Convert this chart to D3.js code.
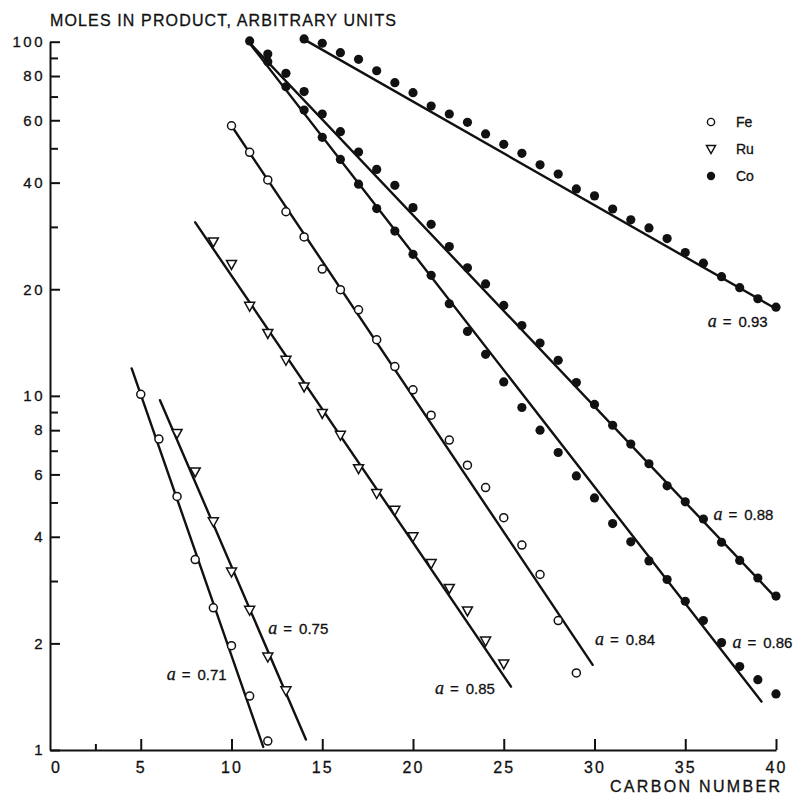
<!DOCTYPE html>
<html>
<head>
<meta charset="utf-8">
<script src="https://cdn.jsdelivr.net/npm/d3@7"></script>
<style>
  html, body { margin: 0; padding: 0; background: #fff; }
  svg text { font-family: "Liberation Sans", Arial, sans-serif; fill: #111; stroke: #111; stroke-width: 0.3px; }
</style>
</head>
<body>
<svg id="chart" width="796" height="794"></svg>
<script>
// [carbon number, moles]
const feA = [[5,10.1],[6,7.55],[7,5.2],[8,3.45],[9,2.52],[10,1.97],[11,1.42],[12,1.06]];
const feB = [[10,57.9],[11,48.7],[12,40.7],[13,33.1],[14,28.1],[15,22.8],[16,19.95],[17,17.5],[18,14.4],[19,12.1],
             [20,10.4],[21,8.82],[22,7.5],[23,6.37],[24,5.51],[25,4.53],[26,3.79],[27,3.13],[28,2.32],[29,1.65]];
const ruA = [[7,7.83],[8,6.1],[9,4.41],[10,3.18],[11,2.48],[12,1.83],[13,1.47]];
const ruB = [[9,27.2],[10,23.5],[11,17.9],[12,15.0],[13,12.6],[14,10.6],[15,8.92],[16,7.74],[17,6.23],[18,5.3],
             [19,4.75],[20,4.0],[21,3.36],[22,2.86],[23,2.47],[24,2.03],[25,1.75]];
const coA = [[14,101.8],[15,99],[16,93.1],[17,89.2],[18,82.8],[19,76.6],[20,71.8],[21,65.8],[22,62.5],[23,59.2],
             [24,54.9],[25,51.3],[26,48.4],[27,44.9],[28,42.3],[29,38.4],[30,36.7],[31,33.7],[32,31.4],[33,29.8],
             [34,27.8],[35,25.4],[36,23.7],[37,21.7],[38,20.2],[39,18.8],[40,17.8]];
const coB = [[11,100.5],[12,92.3],[13,81.4],[14,72.3],[15,62.5],[16,55.7],[17,48.8],[18,43.6],[19,39.3],[20,34.0],
             [21,30.5],[22,26.4],[23,23.0],[24,20.7],[25,18.0],[26,15.8],[27,14.1],[28,12.6],[29,10.9],[30,9.46],
             [31,8.26],[32,7.31],[33,6.43],[34,5.57],[35,5.02],[36,4.49],[37,3.86],[38,3.43],[39,3.06],[40,2.72]];
const coC = [[12,87.8],[13,74.6],[14,64.1],[15,53.7],[16,46.5],[17,39.6],[18,33.8],[19,29.2],[20,25.1],[21,21.9],
             [22,18.2],[23,15.2],[24,13.1],[25,10.95],[26,9.27],[27,8.0],[28,6.92],[29,5.94],[30,5.15],[31,4.36],
             [32,3.87],[33,3.42],[34,3.03],[35,2.63],[36,2.32],[37,2.01],[38,1.72],[39,1.58],[40,1.44]];

// fitted lines: carbon range and moles at both ends, plus where the alpha label sits
const fits = [
  { alpha: "0.71", c: [4.5, 11.75],  v: [11.95, 1.02], at: [6.43, 1.58] },
  { alpha: "0.75", c: [6.06, 14.1],  v: [9.72, 1.07],  at: [12.03, 2.13] },
  { alpha: "0.85", c: [8.0, 25.4],   v: [30.9, 1.51],  at: [21.21, 1.44] },
  { alpha: "0.84", c: [10, 29.9],    v: [57.9, 1.74],  at: [30.03, 1.98] },
  { alpha: "0.86", c: [10.9, 39.2],  v: [100.5, 1.37], at: [37.6, 1.94] },
  { alpha: "0.88", c: [10.9, 39.9],  v: [100.5, 2.72], at: [36.55, 4.46] },
  { alpha: "0.93", c: [13.85, 39.8], v: [102.5, 17.85], at: [36.24, 15.6] }
];

const yMajor = [1, 2, 4, 6, 8, 10, 20, 40, 60, 80, 100];
const yMinor = [3, 5, 7, 9, 30, 50, 70, 90];
const xMajor = [0, 5, 10, 15, 20, 25, 30, 35, 40];
const xMinor = [2.5];
const legendItems = ["Fe", "Ru", "Co"];

const svg = d3.select("#chart");
const x = d3.scaleLinear().domain([0, 40]).range([50, 776]);
const y = d3.scaleLog().domain([1, 100]).range([750, 41.7]);

// y axis, ticks point into the plot
const yAx = svg.append("g").attr("transform", `translate(${x(0)},0)`)
  .call(d3.axisLeft(y).tickValues(yMajor).tickFormat(d3.format("d"))
          .tickSize(-10).tickSizeOuter(0).tickPadding(5));
yAx.append("g").call(d3.axisLeft(y).tickValues(yMinor).tickFormat("").tickSize(-8).tickSizeOuter(0))
  .select(".domain").remove();
yAx.selectAll("path, line").attr("stroke", "#111").attr("stroke-width", 2);
yAx.selectAll("text").style("font-size", "15px").style("letter-spacing", "2.5px").attr("fill", "#111");

// x axis, ticks point up
const xAx = svg.append("g").attr("transform", `translate(0,${y(1)})`)
  .call(d3.axisBottom(x).tickValues(xMajor).tickFormat(d3.format("d"))
          .tickSize(-11).tickSizeOuter(0).tickPadding(12));
xAx.append("g").call(d3.axisBottom(x).tickValues(xMinor).tickFormat("").tickSize(-6).tickSizeOuter(0))
  .select(".domain").remove();
xAx.selectAll("path, line").attr("stroke", "#111").attr("stroke-width", 2);
xAx.selectAll(".tick").filter(d => d === 0).select("line").remove();
xAx.selectAll(".tick").filter(d => d === 0).select("text").attr("dx", 6);
xAx.selectAll("text").style("font-size", "16px").style("letter-spacing", "2px").attr("fill", "#111");

svg.append("text").attr("x", 50).attr("y", 26)
  .attr("textLength", 346).attr("lengthAdjust", "spacing")
  .style("font-size", "16px").text("MOLES IN PRODUCT, ARBITRARY UNITS");
svg.append("text").attr("x", 610).attr("y", 792)
  .attr("textLength", 170).attr("lengthAdjust", "spacing")
  .style("font-size", "16px").text("CARBON NUMBER");

// fitted lines
svg.append("g").selectAll("line").data(fits).join("line")
  .attr("x1", d => x(d.c[0])).attr("y1", d => y(d.v[0]))
  .attr("x2", d => x(d.c[1])).attr("y2", d => y(d.v[1]))
  .attr("stroke", "#111").attr("stroke-width", 2.4).attr("stroke-linecap", "round");

// alpha labels
const lab = svg.append("g").selectAll("text").data(fits).join("text")
  .attr("x", d => x(d.at[0])).attr("y", d => y(d.at[1]))
  .style("font-size", "15px");
lab.append("tspan").style("font-family", "'Liberation Serif', 'DejaVu Serif', serif")
  .style("font-style", "italic").style("font-size", "18px").text("a");
lab.append("tspan").attr("dx", 6).text("=");
lab.append("tspan").attr("dx", 7).text(d => d.alpha);

// markers
const tri = "M-5,-4L5,-4L0,5Z";
const drawOpen = (data) => svg.append("g").selectAll("circle").data(data).join("circle")
  .attr("cx", d => x(d[0])).attr("cy", d => y(d[1])).attr("r", 4)
  .attr("fill", "#fff").attr("stroke", "#111").attr("stroke-width", 1.5);
const drawTri = (data) => svg.append("g").selectAll("path").data(data).join("path")
  .attr("d", tri).attr("transform", d => `translate(${x(d[0])},${y(d[1])})`)
  .attr("fill", "#fff").attr("stroke", "#111").attr("stroke-width", 1.5);
const drawDot = (data) => svg.append("g").selectAll("circle").data(data).join("circle")
  .attr("cx", d => x(d[0])).attr("cy", d => y(d[1])).attr("r", 4.6).attr("fill", "#111");

drawOpen(feA); drawOpen(feB);
drawTri(ruA); drawTri(ruB);
drawDot(coA); drawDot(coB); drawDot(coC);

// legend
const lg = svg.append("g").attr("transform", "translate(711,122)");
lg.selectAll("text").data(legendItems).join("text")
  .attr("x", 25).attr("y", (d, i) => i * 27 + 5).style("font-size", "14px").text(d => d);
lg.append("circle").attr("r", 3.6).attr("fill", "#fff").attr("stroke", "#111").attr("stroke-width", 1.4);
lg.append("path").attr("d", "M-4.5,-3.5L4.5,-3.5L0,4.5Z").attr("transform", "translate(0,27)")
  .attr("fill", "#fff").attr("stroke", "#111").attr("stroke-width", 1.5);
lg.append("circle").attr("cy", 54).attr("r", 4.2).attr("fill", "#111");
</script>
</body>
</html>
